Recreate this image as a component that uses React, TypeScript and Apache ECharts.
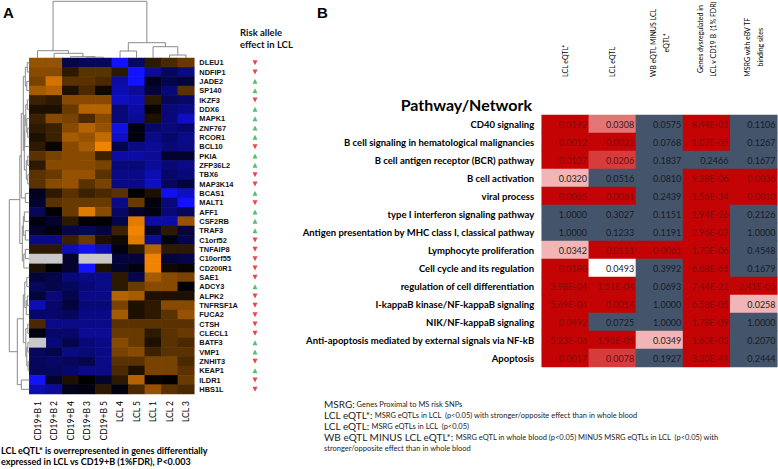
import React, { useEffect, useRef } from 'react';
import * as echarts from 'echarts';

const FONT = 'Lato, "Open Sans", sans-serif';
const ARIAL = '"Liberation Sans", Arial, sans-serif';

// ---------- Panel A data ----------
const sampleLabels = ['CD19+B 1', 'CD19+B 2', 'CD19+B 4', 'CD19+B 3', 'CD19+B 5', 'LCL 4', 'LCL 5', 'LCL 1', 'LCL 2', 'LCL 3'];

const genes = ['DLEU1', 'NDFIP1', 'JADE2', 'SP140', 'IKZF3', 'DDX6', 'MAPK1', 'ZNF767', 'RCOR1', 'BCL10', 'PKIA', 'ZFP36L2', 'TBX6', 'MAP3K14', 'BCAS1', 'MALT1', 'AFF1', 'CSF2RB', 'TRAF3', 'C1orf52', 'TNFAIP8', 'C10orf55', 'CD200R1', 'SAE1', 'ADCY3', 'ALPK2', 'TNFRSF1A', 'FUCA2', 'CTSH', 'CLECL1', 'BATF3', 'VMP1', 'ZNHIT3', 'KEAP1', 'ILDR1', 'HBS1L'];

// +1 = risk allele increases expression (green up), -1 = decreases (red down)
const riskDirection = [-1, -1, 1, 1, -1, 1, 1, 1, 1, -1, 1, 1, -1, -1, 1, -1, 1, 1, 1, -1, -1, -1, -1, -1, 1, -1, -1, -1, -1, -1, 1, 1, -1, 1, -1, -1];

const expression: (number | null)[][] = [
  [1.0, 1.0, -0.5, -0.6, -0.6, -1.8, -0.7, 0.3, 0.5, 0.7],
  [0.9, 0.9, 0.3, 0.6, 0.6, 0.3, -1.7, -1.0, -0.6, -0.9],
  [0.8, 1.4, 0.6, 0.6, 0.5, -1.1, -1.8, -0.2, -0.5, -0.4],
  [1.1, 1.2, 0.2, 0.5, 0.1, -1.2, -1.0, -0.4, -0.8, 0.6],
  [0.4, 0.3, 0.9, 0.9, 0.9, -1.3, -1.2, 0.3, -0.6, -0.7],
  [0.2, 0.2, 0.7, 1.2, 1.2, -0.8, -1.1, 0.05, -0.8, -0.9],
  [0.4, 0.9, 0.8, 0.5, 0.9, -0.8, -1.0, 0.2, -0.8, -1.3],
  [0.3, 0.4, 0.9, 1.2, 1.0, -1.5, -0.1, -0.7, -0.8, -0.7],
  [0.2, 0.4, 1.1, 1.0, 1.3, -1.3, -0.1, -0.9, -0.7, -0.9],
  [0.3, 0.05, 0.9, 1.1, 1.6, -0.5, -0.9, -1.0, -0.8, -0.9],
  [0.6, 0.8, 0.9, 0.9, 0.4, -1.1, -1.1, -1.0, -0.3, -0.3],
  [0.3, 0.9, 0.9, 0.9, 0.8, -0.8, -0.8, -1.0, -0.8, -0.9],
  [0.6, 0.7, 1.0, 1.0, 0.6, -0.9, -0.9, -1.2, -0.7, -0.8],
  [0.6, 0.9, 1.0, 0.6, 0.8, -0.9, -0.9, -1.3, -0.6, -0.4],
  [-0.2, 0.3, 0.6, 0.4, 0.5, 0.6, 0.0, 0.2, -1.6, -1.3],
  [-0.3, 0.6, 0.7, 0.7, 0.7, -0.9, 0.7, -0.1, -0.8, -1.7],
  [-0.6, 0.0, 0.7, 1.5, 0.9, -0.7, -0.3, -0.1, -0.8, -0.6],
  [-0.1, -0.3, 0.3, 0.0, 0.0, -0.5, 1.5, -1.1, -1.1, 1.0],
  [-0.3, -0.1, -0.5, -0.6, -0.4, 0.4, 1.6, -0.3, 0.3, -0.4],
  [-0.9, -0.9, 0.4, 0.7, 0.2, 0.1, 1.5, -1.0, -0.1, -0.5],
  [0.3, 0.3, -1.2, -1.6, -1.2, -0.1, 0.3, 1.2, 0.3, 0.3],
  [null, null, -0.3, null, null, -0.4, -0.4, 1.6, -0.4, -0.5],
  [0.2, 0.0, -0.3, -1.8, 0.2, -0.3, -0.1, 1.6, 0.1, 0.05],
  [-0.4, -0.5, -0.8, -0.9, -0.9, 0.3, -0.5, 1.1, 0.9, 0.8],
  [-0.6, -0.5, -0.6, -0.8, -0.9, 0.3, 0.7, 0.9, 0.9, 0.0],
  [-0.4, -0.8, -0.5, -0.9, -0.9, 1.2, 1.1, 0.2, 0.2, 0.2],
  [-1.2, -0.7, -0.4, -0.8, -0.8, 0.8, 0.2, 0.3, 0.9, 0.9],
  [-0.7, -0.7, -0.6, -0.9, -0.9, 1.1, 0.2, 0.3, 0.6, 1.0],
  [0.5, -0.9, -0.9, -0.9, -0.9, 0.6, 0.6, 0.6, 0.6, 0.6],
  [-0.1, -0.7, -0.7, -1.0, -1.0, 0.7, 0.7, 0.3, 0.6, 0.7],
  [null, -0.8, -0.5, -0.8, -0.9, 0.9, 0.7, 0.2, 0.6, 0.5],
  [-0.6, -0.5, -0.9, -0.8, -0.9, 0.8, 0.9, 0.4, 0.6, 0.6],
  [-0.6, -0.7, -0.6, -0.5, -0.9, 0.6, 0.6, 0.8, 0.8, 0.5],
  [-0.6, -0.6, -0.7, -0.9, -0.9, 0.5, 0.2, 0.8, 0.8, 0.6],
  [-1.8, -0.3, 0.2, 0.0, -0.3, 0.3, 1.2, 0.05, 0.0, 0.7],
  [-1.2, -1.0, -0.2, -0.1, 0.3, -0.1, 0.5, 1.0, 0.6, 0.5],
];

// hclust-style merges: [a, b, height]; negative = leaf (1-based), positive = earlier merge (1-based)
const sampleMerges: [number, number, number][] = [
  [-4, -5, 0.8], [-3, 1, 1.3], [-2, 2, 4.7], [-1, 3, 7.3],
  [-9, -10, 3], [-8, 5, 11.3], [-6, -7, 7], [7, 6, 15.3],
  [4, 8, 56.7],
];
const geneMerges: [number, number, number][] = [
  [-1, -2, 2], [-3, -4, 2.5], [1, 2, 4], [-5, -6, 2], [-8, -9, 1.5],
  [-7, 5, 2.5], [4, 6, 3.5], [7, -10, 4.5], [-11, -12, 1.5], [-13, -14, 1.5],
  [9, 10, 3], [8, 11, 5], [3, 12, 6], [-15, -16, 4], [13, 14, 8],
  [-17, -18, 5], [-19, -20, 4], [16, 17, 6], [-21, -22, 4], [19, -23, 5.5],
  [18, 20, 7], [15, 21, 9.5], [-24, -25, 2.5], [-26, -27, 2], [24, -28, 3],
  [23, 25, 4.5], [-29, -30, 1.5], [-31, -32, 1.5], [-33, -34, 1.2], [28, 29, 2.5],
  [27, 30, 3.5], [26, 31, 6], [-35, -36, 8], [32, 33, 12], [22, 34, 20],
];

// ---------- Panel B data ----------
const pathways = ['CD40 signaling', 'B cell signaling in hematological malignancies', 'B cell antigen receptor (BCR) pathway', 'B cell activation', 'viral process', 'type I interferon signaling pathway', 'Antigen presentation by MHC class I, classical pathway', 'Lymphocyte proliferation', 'Cell cycle and its regulation', 'regulation of cell differentiation', 'I-kappaB kinase/NF-kappaB signaling', 'NIK/NF-kappaB signaling', 'Anti-apoptosis mediated by external signals via NF-kB', 'Apoptosis'];

const columnHeaders = [['LCL eQTL*'], ['LCL eQTL'], ['WB eQTL MINUS LCL', 'eQTL*'], ['Genes dysregulated in', 'LCL v CD19 B  (1% FDR)'], ['MSRG with eBV TF', 'binding sites']];

const pLCLeQTLstar = ['0.0192', '0.0012', '0.0107', '0.0320', '0.0065', '1.0000', '1.0000', '0.0342', '0.0180', '3.98E-04', '5.69E-04', '0.0492', '5.23E-06', '0.0017'];
const pLCLeQTL = ['0.0308', '0.0022', '0.0206', '0.0516', '0.0061', '0.3027', '0.1233', '0.0111', '0.0493', '1.51E-04', '0.0014', '0.0725', '1.96E-05', '0.0078'];
const pWBminusLCL = ['0.0575', '0.0768', '0.1837', '0.0810', '0.2439', '0.1151', '0.1191', '0.0061', '0.3992', '0.0693', '1.0000', '1.0000', '0.0349', '0.1927'];
const pDysregulated = ['8.44E-05', '1.07E-05', '0.2466', '9.28E-06', '1.56E-34', '1.94E-26', '2.96E-07', '1.70E-06', '6.68E-65', '7.44E-22', '6.58E-05', '1.78E-09', '1.60E-03', '3.30E-49'];
const pEBVTF = ['0.1106', '0.1267', '0.1677', '0.0036', '0.0010', '0.2126', '1.0000', '0.4548', '0.1679', '2.41E-05', '0.0258', '1.0000', '0.2070', '0.2444'];

// enrichment tier of each cell: 0 strongest .. 4 weakest, 5 = not significant
const tierLCLeQTLstar = [0, 0, 0, 3, 0, 5, 5, 3, 0, 0, 0, 0, 0, 0];
const tierLCLeQTL = [2, 0, 1, 5, 0, 5, 5, 0, 4, 0, 0, 5, 0, 1];
const tierWBminusLCL = [5, 5, 5, 5, 5, 5, 5, 0, 5, 5, 5, 5, 3, 5];
const tierDysregulated = [0, 0, 5, 0, 0, 0, 0, 0, 0, 0, 0, 0, 0, 0];
const tierEBVTF = [5, 5, 5, 0, 0, 5, 5, 5, 5, 0, 3, 5, 5, 5];

const legendLines: [string, string][] = [
  ['MSRG:', ' Genes Proximal to MS risk SNPs'],
  ['LCL eQTL*:', ' MSRG eQTLs in LCL  (p<0.05) with stronger/opposite effect than in whole blood'],
  ['LCL eQTL:', ' MSRG eQTLs in LCL  (p<0.05)'],
  ['WB eQTL MINUS LCL eQTL*:', ' MSRG eQTL in whole blood (p<0.05) MINUS MSRG eQTLs in LCL  (p<0.05) with'],
  ['', 'stronger/opposite effect than in whole blood'],
];
const footnoteA = ['LCL eQTL* is overrepresented in genes differentially', 'expressed in LCL vs CD19+B (1%FDR), P<0.003'];

function dendroSegments(merges: [number, number, number][]) {
  const pos: number[] = [];
  const hts: number[] = [];
  const segs: number[][][] = [];
  const get = (k: number) => (k < 0 ? [-k - 1 + 0.5, 0] : [pos[k - 1], hts[k - 1]]);
  merges.forEach(([a, b, h]) => {
    const [xa, ha] = get(a);
    const [xb, hb] = get(b);
    segs.push([[xa, ha], [xa, h], [xb, h], [xb, hb]]);
    pos.push((xa + xb) / 2);
    hts.push(h);
  });
  return segs;
}

export default function App() {
  const ref = useRef<HTMLDivElement>(null);
  useEffect(() => {
    const chart = echarts.init(ref.current!, null, { renderer: 'svg' });

    const HM = { left: 29.3, top: 58, width: 165, height: 336 };
    const TB = { left: 541.7, top: 115, width: 235.6, height: 252 };

    const heatData: number[][] = [];
    const naData: number[][] = [];
    expression.forEach((row, i) => row.forEach((v, j) => {
      if (v === null) naData.push([j, i, 0]);
      else heatData.push([j, i, v]);
    }));

    const pCols = [pLCLeQTLstar, pLCLeQTL, pWBminusLCL, pDysregulated, pEBVTF];
    const tierCols = [tierLCLeQTLstar, tierLCLeQTL, tierWBminusLCL, tierDysregulated, tierEBVTF];
    const tierText = ['#7e0b0b', '#6a0f0f', '#3b1515', '#222222', '#222222', '#161d29'];
    const tableData: any[] = [];
    pCols.forEach((col, j) => col.forEach((s, i) => {
      const t = tierCols[j][i];
      tableData.push({ value: [j, i, parseFloat(s), t], label: { color: tierText[t] } });
    }));

    const topSegs = dendroSegments(sampleMerges).map((c) => ({ coords: c }));
    const leftSegs = dendroSegments(geneMerges).map((c) => ({ coords: c.map(([p, h]) => [h, p]) }));

    const graphics: any[] = [];
    graphics.push({ type: 'text', x: 3, y: 12, style: { text: 'A', font: `bold 15px ${ARIAL}`, fill: '#000', verticalAlign: 'middle' } });
    graphics.push({ type: 'text', x: 317, y: 12, style: { text: 'B', font: `bold 15px ${ARIAL}`, fill: '#000', verticalAlign: 'middle' } });
    ['Risk allele', 'effect in LCL'].forEach((t, k) => graphics.push({
      type: 'text', x: 240, y: 32.3 + k * 12, style: { text: t, font: `bold 9.5px ${FONT}`, fill: '#111', verticalAlign: 'middle' },
    }));
    graphics.push({ type: 'text', x: 532, y: 104, style: { text: 'Pathway/Network', font: `bold 16px ${FONT}`, fill: '#000', align: 'right', verticalAlign: 'middle' } });

    // rotated column headers: block starts at the table's header bottom, lines centred on each other
    columnHeaders.forEach((lines, j) => {
      const cx = TB.left + (j + 0.5) * TB.width / 5;
      graphics.push({
        type: 'text', x: cx, y: 77, rotation: Math.PI / 2,
        style: {
          text: lines.map((l) => `{c|${l}}`).join('\n'),
          align: 'left', verticalAlign: 'middle',
          rich: { c: { align: 'center', fontSize: 7, fontFamily: FONT, fill: '#000', lineHeight: 12.5 } },
        },
      });
    });

    const legendY = [404, 415, 426, 437, 448];
    legendLines.forEach(([big, small], k) => graphics.push({
      type: 'text', x: 324, y: legendY[k],
      style: {
        text: (big ? `{a|${big}}` : '') + `{b|${small}}`,
        verticalAlign: 'middle',
        rich: {
          a: { fontSize: 10, fontFamily: FONT, fill: '#222' },
          b: { fontSize: 7.5, fontFamily: FONT, fill: '#222' },
        },
      },
    }));
    footnoteA.forEach((t, k) => graphics.push({
      type: 'text', x: 1, y: 450.7 + k * 11, style: { text: t, font: `bold 9px ${FONT}`, fill: '#000', verticalAlign: 'middle' },
    }));

    const hidden = { show: false };
    const option: any = {
      animation: false,
      backgroundColor: '#fff',
      grid: [
        { ...HM },
        { left: 250, top: HM.top, width: 10, height: HM.height },
        { left: HM.left, top: 0, width: HM.width, height: HM.top },
        { left: 9.3, top: HM.top, width: 20, height: HM.height },
        { ...TB },
      ],
      xAxis: [
        {
          type: 'category', gridIndex: 0, data: sampleLabels, position: 'bottom',
          axisLine: hidden, axisTick: hidden, splitLine: hidden,
          axisLabel: { rotate: 90, fontSize: 8.5, fontFamily: FONT, color: '#000', margin: 7, interval: 0 },
        },
        { type: 'value', gridIndex: 1, min: 0, max: 1, show: false },
        { type: 'value', gridIndex: 2, min: 0, max: 10, show: false },
        { type: 'value', gridIndex: 3, min: 0, max: 20, inverse: true, show: false },
        { type: 'category', gridIndex: 4, data: columnHeaders.map((l) => l.join(' ')), show: false },
      ],
      yAxis: [
        {
          type: 'category', gridIndex: 0, data: genes, inverse: true, position: 'right',
          axisLine: hidden, axisTick: hidden, splitLine: hidden,
          axisLabel: { fontSize: 7.4, fontFamily: ARIAL, fontWeight: 'bold', color: '#111', margin: 5, interval: 0 },
        },
        { type: 'category', gridIndex: 1, data: genes, inverse: true, show: false },
        { type: 'value', gridIndex: 2, min: 0, max: 58, show: false },
        { type: 'value', gridIndex: 3, min: 0, max: 36, inverse: true, show: false },
        {
          type: 'category', gridIndex: 4, data: pathways, inverse: true,
          axisLine: hidden, axisTick: hidden, splitLine: hidden,
          axisLabel: { fontSize: 9.5, fontFamily: FONT, fontWeight: 'bold', color: '#000', margin: 7.5, interval: 0 },
        },
      ],
      visualMap: [
        {
          type: 'continuous', seriesIndex: 0, dimension: 2, min: -1.7, max: 1.7, show: false,
          inRange: { color: ['#1212ff', '#000000', '#ff8c00'] },
        },
        {
          type: 'piecewise', seriesIndex: 1, dimension: 2, show: false,
          pieces: [{ value: 0, color: '#c8c8c8' }],
        },
        {
          type: 'piecewise', seriesIndex: 5, dimension: 3, show: false,
          pieces: [
            { value: 0, color: '#c40404' },
            { value: 1, color: '#d63c3c' },
            { value: 2, color: '#e27676' },
            { value: 3, color: '#f1b5b5' },
            { value: 4, color: '#ffffff' },
            { value: 5, color: '#44546a' },
          ],
        },
      ],
      series: [
        { type: 'heatmap', xAxisIndex: 0, yAxisIndex: 0, data: heatData, emphasis: { disabled: true }, silent: true },
        { type: 'heatmap', xAxisIndex: 0, yAxisIndex: 0, data: naData, emphasis: { disabled: true }, silent: true },
        {
          type: 'scatter', xAxisIndex: 1, yAxisIndex: 1, symbol: 'triangle', symbolSize: [5, 5], silent: true,
          data: riskDirection.map((d, i) => ({
            value: [0.5, i], symbolRotate: d < 0 ? 180 : 0,
            itemStyle: { color: d < 0 ? '#e3161e' : '#2fae4e' },
          })),
        },
        {
          type: 'lines', coordinateSystem: 'cartesian2d', xAxisIndex: 2, yAxisIndex: 2, polyline: true, silent: true,
          data: topSegs, lineStyle: { color: '#8a8a8a', width: 1, opacity: 1 },
        },
        {
          type: 'lines', coordinateSystem: 'cartesian2d', xAxisIndex: 3, yAxisIndex: 3, polyline: true, silent: true,
          data: leftSegs, lineStyle: { color: '#8a8a8a', width: 1, opacity: 1 },
        },
        {
          type: 'heatmap', xAxisIndex: 4, yAxisIndex: 4, data: tableData, emphasis: { disabled: true }, silent: true,
          label: {
            show: true, position: 'insideRight', distance: 2, fontSize: 9, fontFamily: FONT,
            formatter: (p: any) => pCols[p.value[0]][p.value[1]],
          },
        },
      ],
      graphic: graphics,
    };
    chart.setOption(option);
    return () => chart.dispose();
  }, []);
  return <div ref={ref} style={{ position: 'fixed', left: 0, top: 0, width: 778, height: 469, background: '#fff' }} />;
}
